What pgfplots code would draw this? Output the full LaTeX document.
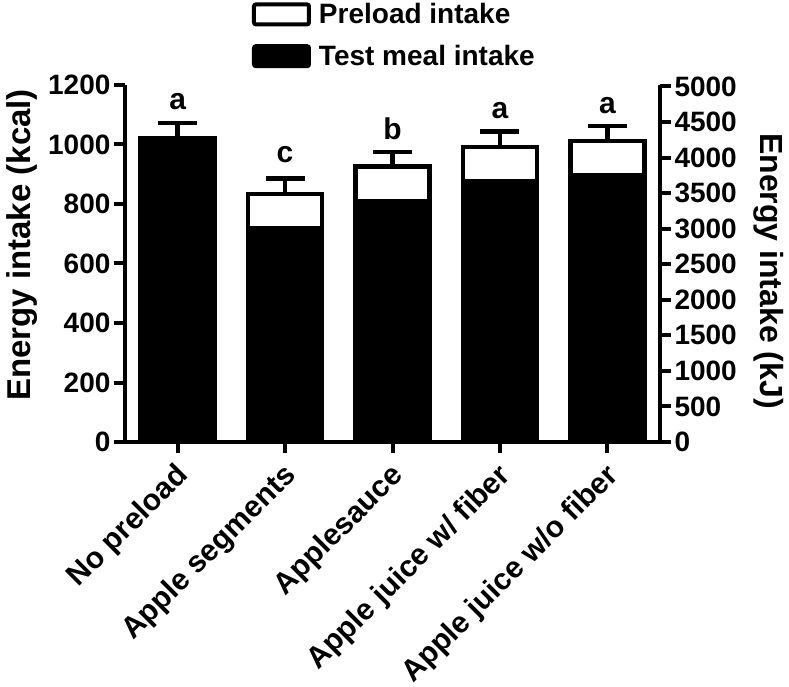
\documentclass[border=0pt]{standalone}
\usepackage{pgfplots}
\pgfplotsset{compat=1.18}
\usepackage{fontspec}
\setmainfont{Liberation Sans}
\begin{document}
\begin{tikzpicture}
\path[use as bounding box] (-125pt,-245pt) rectangle (664pt,442pt);
\pgfplotsset{
  common/.style={
    scale only axis, width=535pt, height=357pt,
    xmin=-0.49, xmax=4.49,
    tick align=outside, major tick length=11pt,
    every tick/.style={black, line width=4pt},
    axis line style={line width=4pt, -},
    tick label style={font=\fontsize{28}{28}\selectfont\bfseries},
    /pgf/number format/assume math mode=true,
    /pgf/number format/1000 sep={},
    clip=false,
  }
}
\begin{axis}[
  common,
  ymin=0, ymax=1200,
  axis x line*=bottom, axis y line*=left,
  xtick={0,...,4},
  xticklabels={No preload, Apple segments, Applesauce, Apple juice w/ fiber, Apple juice w/o fiber},
  ytick={0,200,...,1200},
  xticklabel style={xshift=9pt, yshift=-16pt, rotate=45, anchor=east, font=\fontsize{30}{30}\selectfont\bfseries},
  ylabel={Energy intake (kcal)},
  ylabel style={at={(axis description cs:-0.1925,0.552)}, anchor=center, font=\fontsize{33}{33}\selectfont\bfseries},
  legend style={at={(axis description cs:0.237,1.044)}, anchor=south west, draw=none, fill=none,
    row sep=16pt, inner sep=0pt, font=\fontsize{28}{28}\selectfont\bfseries, cells={anchor=west}},
  legend image code/.code={\draw[#1, line width=4pt, rounded corners=2pt] (0pt,-10pt) rectangle (55pt,10pt);},
]
% total (preload on top of test meal)
\addplot[ybar, bar shift=0pt, bar width=0.69, fill=white, draw=black, line width=4.5pt,
  error bars/.cd, y dir=plus, y explicit,
  error bar style={line width=4.5pt},
  error mark options={rotate=90, mark size=19.5pt, line width=4.5pt}]
  coordinates {(0,1021) +- (0,52) (1,834) +- (0,51) (2,926) +- (0,49) (3,991) +- (0,52) (4,1011) +- (0,51)};
\addlegendentry{\hspace{6pt}Preload intake}
% test meal
\addplot[ybar, bar shift=0pt, bar width=0.69, fill=black, draw=black, line width=4.5pt]
  coordinates {(0,1021) (1,718) (2,808) (3,876) (4,896)};
\addlegendentry{\hspace{6pt}Test meal intake}
% significance letters
\addplot[draw=none, forget plot, nodes near coords, point meta=explicit symbolic,
  nodes near coords style={anchor=center, font=\fontsize{30}{30}\selectfont\bfseries}]
  coordinates {(0,1143)[a] (1,967)[c] (2,1053)[b] (3,1113)[a] (4,1130)[a]};
\end{axis}
\begin{axis}[
  common,
  ymin=0, ymax=5020.8,
  axis x line=none, axis y line*=right,
  ytick={0,500,...,5000},
  ylabel={Energy intake (kJ)},
  ylabel style={at={(axis description cs:1.203,0.479)}, anchor=center, rotate=180, font=\fontsize{32}{32}\selectfont\bfseries},
]
\addplot[draw=none] coordinates {(0,0) (4,0)};
\end{axis}
\end{tikzpicture}
\end{document}
